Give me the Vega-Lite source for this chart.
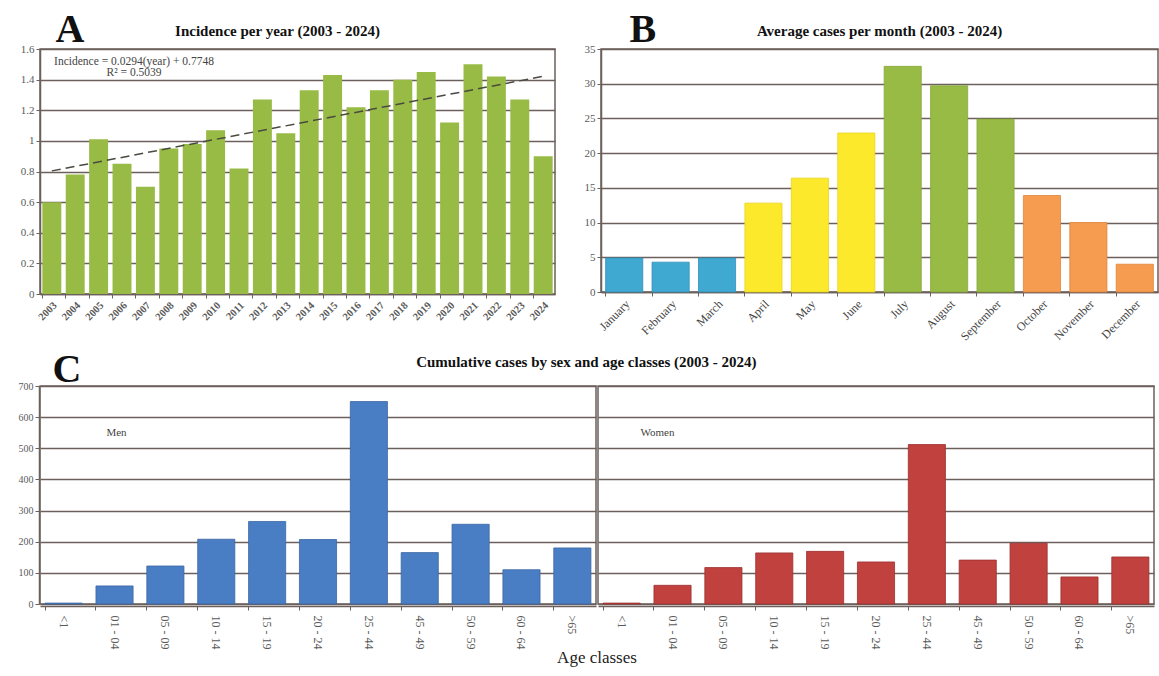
{
  "$schema": "https://vega.github.io/schema/vega-lite/v6.json",
  "background": "white",
  "padding": {"left": 18, "top": 8, "right": 0, "bottom": 2},
  "config": {
    "font": "Liberation Serif",
    "view": {"stroke": "#6b605c", "strokeWidth": 1.5},
    "axis": {"labelFont": "Liberation Serif", "labelColor": "#5a5a5a", "labelFontSize": 11, "gridColor": "#6b605c", "gridWidth": 1.5, "gridOpacity": 1, "domainColor": "#6b605c", "domainWidth": 1.5, "tickColor": "#6b605c", "tickSize": 4, "titleFont": "Liberation Serif", "titleColor": "#111"},
    "title": {"font": "Liberation Serif", "fontWeight": "bold", "fontSize": 15, "color": "#111"}
  },
  "datasets": {
    "incidence": [
      {"year": "2003", "incidence": 0.60}, {"year": "2004", "incidence": 0.78}, {"year": "2005", "incidence": 1.01},
      {"year": "2006", "incidence": 0.85}, {"year": "2007", "incidence": 0.70}, {"year": "2008", "incidence": 0.95},
      {"year": "2009", "incidence": 0.98}, {"year": "2010", "incidence": 1.07}, {"year": "2011", "incidence": 0.82},
      {"year": "2012", "incidence": 1.27}, {"year": "2013", "incidence": 1.05}, {"year": "2014", "incidence": 1.33},
      {"year": "2015", "incidence": 1.43}, {"year": "2016", "incidence": 1.22}, {"year": "2017", "incidence": 1.33},
      {"year": "2018", "incidence": 1.40}, {"year": "2019", "incidence": 1.45}, {"year": "2020", "incidence": 1.12},
      {"year": "2021", "incidence": 1.50}, {"year": "2022", "incidence": 1.42}, {"year": "2023", "incidence": 1.27},
      {"year": "2024", "incidence": 0.90}
    ],
    "trend": [{"year": "2003", "trend": 0.804}, {"year": "2024", "trend": 1.422}],
    "equation": [{"year": "2006", "y": 1.555, "text": ["Incidence = 0.0294(year) + 0.7748", "R² = 0.5039"]}],
    "months": [
      {"month": "January", "cases": 4.9, "season": "winter"},
      {"month": "February", "cases": 4.3, "season": "winter"},
      {"month": "March", "cases": 4.9, "season": "winter"},
      {"month": "April", "cases": 12.8, "season": "spring"},
      {"month": "May", "cases": 16.4, "season": "spring"},
      {"month": "June", "cases": 22.9, "season": "spring"},
      {"month": "July", "cases": 32.5, "season": "summer"},
      {"month": "August", "cases": 29.7, "season": "summer"},
      {"month": "September", "cases": 24.9, "season": "summer"},
      {"month": "October", "cases": 13.9, "season": "autumn"},
      {"month": "November", "cases": 10.0, "season": "autumn"},
      {"month": "December", "cases": 4.0, "season": "autumn"}
    ],
    "ages": [
      {"sex": "Men", "age": "<1", "cases": 3},
      {"sex": "Men", "age": "01 - 04", "cases": 58, "note": "Men"},
      {"sex": "Men", "age": "05 - 09", "cases": 122},
      {"sex": "Men", "age": "10 - 14", "cases": 208},
      {"sex": "Men", "age": "15 - 19", "cases": 265},
      {"sex": "Men", "age": "20 - 24", "cases": 207},
      {"sex": "Men", "age": "25 - 44", "cases": 650},
      {"sex": "Men", "age": "45 - 49", "cases": 165},
      {"sex": "Men", "age": "50 - 59", "cases": 256},
      {"sex": "Men", "age": "60 - 64", "cases": 110},
      {"sex": "Men", "age": ">65", "cases": 180},
      {"sex": "Women", "age": "<1", "cases": 3},
      {"sex": "Women", "age": "01 - 04", "cases": 60, "note": "Women"},
      {"sex": "Women", "age": "05 - 09", "cases": 117},
      {"sex": "Women", "age": "10 - 14", "cases": 164},
      {"sex": "Women", "age": "15 - 19", "cases": 169},
      {"sex": "Women", "age": "20 - 24", "cases": 135},
      {"sex": "Women", "age": "25 - 44", "cases": 512},
      {"sex": "Women", "age": "45 - 49", "cases": 141},
      {"sex": "Women", "age": "50 - 59", "cases": 195},
      {"sex": "Women", "age": "60 - 64", "cases": 87},
      {"sex": "Women", "age": ">65", "cases": 151}
    ]
  },
  "resolve": {"scale": {"color": "independent", "stroke": "independent"}},
  "vconcat": [
    {
      "hconcat": [
        {
          "width": 515,
          "height": 245,
          "title": {"text": "Incidence per year (2003 - 2024)", "offset": -30, "dx": -20},
          "layer": [
            {
              "data": {"name": "incidence"},
              "mark": {"type": "bar", "color": "#98bb45"},
              "encoding": {
                "x": {"field": "year", "type": "ordinal", "scale": {"paddingInner": 0.19, "paddingOuter": 0.1},
                      "axis": {"title": null, "labelAngle": -45, "bandPosition": 0, "labelFontSize": 10.5, "labelFontWeight": "bold", "labelPadding": 2}},
                "y": {"field": "incidence", "type": "quantitative", "scale": {"domain": [0, 1.6]},
                      "axis": {"values": [0, 0.2, 0.4, 0.6, 0.8, 1, 1.2, 1.4, 1.6], "tickCount": 30, "format": "~f", "title": "A", "titleAngle": 0, "titleX": 15, "titleY": -8, "titleFontSize": 40, "titleFontWeight": "bold", "titleAlign": "left", "titleBaseline": "alphabetic"}}
              }
            },
            {
              "data": {"name": "trend"},
              "mark": {"type": "line", "color": "#4a4a40", "strokeDash": [9, 5], "strokeWidth": 1.5},
              "encoding": {
                "x": {"field": "year", "type": "ordinal"},
                "y": {"field": "trend", "type": "quantitative"}
              }
            },
            {
              "data": {"name": "equation"},
              "mark": {"type": "text", "align": "center", "baseline": "top", "fontSize": 11.5, "color": "#444", "dx": 12, "lineHeight": 11},
              "encoding": {
                "x": {"field": "year", "type": "ordinal"},
                "y": {"field": "y", "type": "quantitative"},
                "text": {"field": "text"}
              }
            }
          ]
        },
        {
          "width": 557,
          "height": 243,
          "title": {"text": "Average cases per month (2003 - 2024)", "offset": -30},
          "data": {"name": "months"},
          "mark": {"type": "bar", "strokeWidth": 0.8},
          "encoding": {
            "x": {"field": "month", "type": "nominal", "sort": null, "scale": {"paddingInner": 0.2, "paddingOuter": 0.1},
                  "axis": {"title": null, "labelAngle": -45, "bandPosition": 0, "labelFontSize": 12, "labelPadding": 2, "labelColor": "#444"}},
            "y": {"field": "cases", "type": "quantitative", "scale": {"domain": [0, 35]},
                  "axis": {"values": [0, 5, 10, 15, 20, 25, 30, 35], "tickCount": 30, "title": "B", "titleAngle": 0, "titleX": 28, "titleY": -8, "titleFontSize": 40, "titleFontWeight": "bold", "titleAlign": "left", "titleBaseline": "alphabetic"}},
            "color": {"field": "season", "type": "nominal", "scale": {"domain": ["winter", "spring", "summer", "autumn"], "range": ["#3fa9d2", "#fde92c", "#98bb45", "#f59c50"]}, "legend": null},
            "stroke": {"field": "season", "type": "nominal", "scale": {"domain": ["winter", "spring", "summer", "autumn"], "range": ["#2f8fb8", "#e8d41a", "#86a838", "#e0843a"]}, "legend": null}
          }
        }
      ],
      "spacing": 27
    },
    {
      "data": {"name": "ages"},
      "title": {"text": "Cumulative cases by sex and age classes (2003 - 2024)", "offset": -21, "anchor": "middle"},
      "facet": {"column": {"field": "sex", "type": "nominal", "sort": ["Men", "Women"], "title": "Age classes",
                           "header": {"labels": false, "titleOrient": "bottom", "titleFont": "Liberation Serif", "titleFontSize": 17, "titleFontWeight": "normal", "titleColor": "#222", "titlePadding": -9}}},
      "spacing": 0,
      "spec": {
        "width": 556,
        "height": 218,
        "layer": [
          {
            "mark": {"type": "bar", "strokeWidth": 0.8},
            "encoding": {
              "x": {"field": "age", "type": "nominal", "sort": null, "scale": {"paddingInner": 0.27, "paddingOuter": 0.1},
                    "axis": {"title": null, "labelAngle": 90, "bandPosition": 0, "labelFontSize": 12, "labelPadding": 5}},
              "y": {"field": "cases", "type": "quantitative", "scale": {"domain": [0, 700]},
                    "axis": {"values": [0, 100, 200, 300, 400, 500, 600, 700], "tickCount": 30, "labelFontSize": 10, "title": "C", "titleAngle": 0, "titleX": 13, "titleY": -5, "titleFontSize": 40, "titleFontWeight": "bold", "titleAlign": "left", "titleBaseline": "alphabetic"}},
              "color": {"field": "sex", "type": "nominal", "scale": {"domain": ["Men", "Women"], "range": ["#4a7ec4", "#c0413d"]}, "legend": null},
              "stroke": {"field": "sex", "type": "nominal", "scale": {"domain": ["Men", "Women"], "range": ["#3a66a4", "#9c3030"]}, "legend": null}
            }
          },
          {
            "transform": [{"filter": "datum.note == 'Men'"}],
            "mark": {"type": "text", "fontSize": 11, "color": "#444", "dx": 2},
            "encoding": {
              "x": {"field": "age", "type": "nominal", "sort": null},
              "y": {"datum": 550},
              "text": {"field": "note"}
            }
          },
          {
            "transform": [{"filter": "datum.note == 'Women'"}],
            "mark": {"type": "text", "fontSize": 11, "color": "#444", "dx": -15},
            "encoding": {
              "x": {"field": "age", "type": "nominal", "sort": null},
              "y": {"datum": 550},
              "text": {"field": "note"}
            }
          }
        ]
      }
    }
  ],
  "spacing": 6
}
